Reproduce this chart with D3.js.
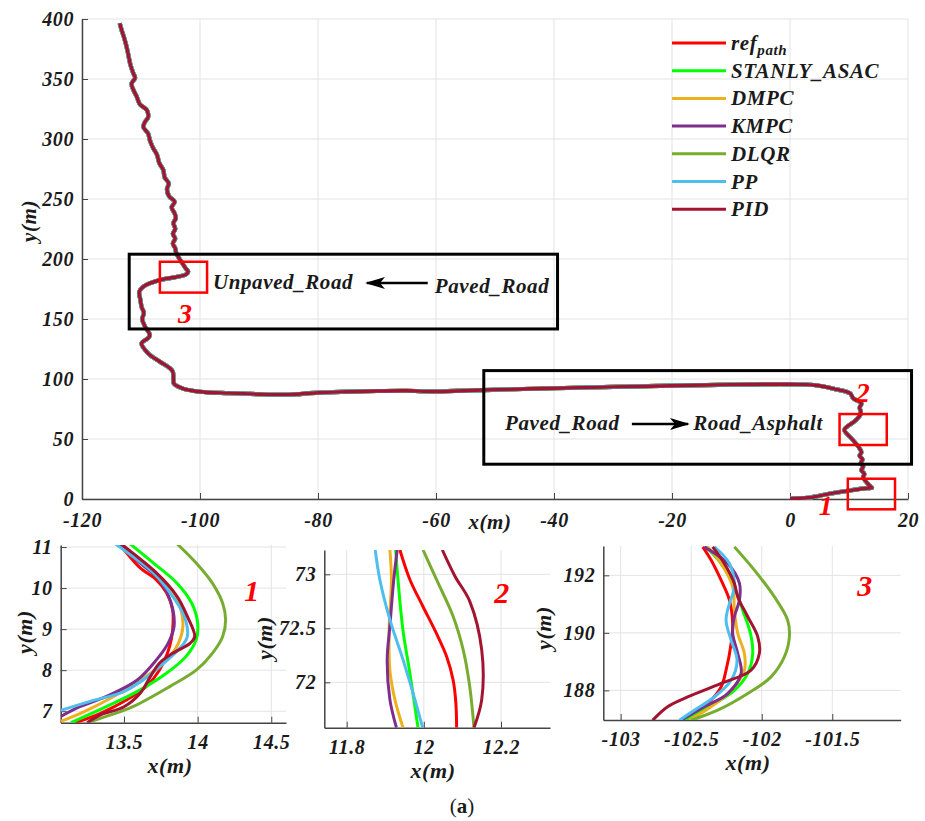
<!DOCTYPE html>
<html>
<head>
<meta charset="utf-8">
<script src="https://cdn.jsdelivr.net/npm/d3@7"></script>
<style>
body { margin: 0; background: #fff; }
text { font-family: "Liberation Serif", "Times New Roman", serif; font-weight: bold; font-style: italic; fill: #1a1a1a; letter-spacing: 0.6px; }
</style>
</head>
<body>
<div id="chart"></div>
<script>
const seriesNames = ['ref', 'STANLY_ASAC', 'DMPC', 'KMPC', 'DLQR', 'PP', 'PID'];
const seriesColors = ['#ff0000', '#00ff00', '#edb120', '#7e2f8e', '#77ac30', '#4dbeee', '#a2142f'];

// whole run, all controllers lie on top of each other at this scale
const mainPath = [[0,0.5],[3,1],[6.8,4.5],[10,7],[13,9],[13.9,9.3],[13.5,11],[12.8,15],[12.4,18],[12.6,21],[12.1,24],
  [12.4,27],[12,30],[12.3,33],[11.8,36],[12.1,39],[11.6,43.6],[10.5,50],[9.2,57.5],[9.6,60],[11,65],[11.9,70],[12,73],
  [11.8,76],[12.1,79.7],[10.7,84],[10.2,88],[7.3,92],[4,95],[0,95.6],[-10,95.3],[-20,94.4],[-30,93.4],[-40,92.3],
  [-52,90.8],[-60,89.6],[-65,90.2],[-70,90],[-75,89.4],[-80,88.6],[-85,87],[-90,87.3],[-95,88.2],[-100,89.4],
  [-103,92.2],[-104.4,96],[-104.5,99],[-104.6,106],[-105.1,109],[-106.8,114.4],[-108.8,121.4],[-109.9,129.7],
  [-108.8,134],[-108.5,136.7],[-109.3,143.6],[-109.8,150],[-109.5,155],[-109.9,160],[-110.1,166],[-110.3,172.7],
  [-109.6,177],[-106.8,182.5],[-104,185],[-102.4,187],[-102,189.4],[-102.4,192],[-102.8,195],[-104,204.7],
  [-104.2,209],[-104.6,213],[-104.2,217],[-104.6,221],[-104.2,225],[-104.5,230],[-104.1,234],[-104.3,238],
  [-104.8,243],[-104.3,247.8],[-105.2,252],[-105.6,258],[-105.3,263],[-106,268],[-106.2,274],[-106.9,280],
  [-107.3,287],[-108,293],[-108.5,299],[-108.8,304.7],[-109.6,310],[-109.3,314.4],[-108.8,318],[-109,324],
  [-110.2,329],[-110.7,335],[-111.2,340],[-111.6,346],[-111,351],[-111.3,354.7],[-111.8,362],[-112.2,371.4],
  [-112.5,378],[-112.9,385],[-113.3,391],[-113.6,396.4]];

// zoom 1 (around x=14, y=9), one array per series in seriesNames order
const zoom1Paths = [
  [[13.46,11.1],[13.51,10.89],[13.61,10.49],[13.72,10.2],[13.79,9.88],[13.83,9.47],[13.83,8.98],[13.81,8.58],[13.74,8.0],[13.65,7.6],[13.52,7.28],[13.34,6.95],[13.17,6.72]],
  [[13.54,11.08],[13.7,10.61],[13.86,10.12],[13.96,9.63],[14.0,9.15],[13.99,8.74],[13.92,8.33],[13.79,7.93],[13.61,7.52],[13.38,7.11],[13.14,6.72]],
  [[13.47,11.08],[13.63,10.61],[13.79,10.12],[13.88,9.55],[13.9,9.07],[13.87,8.66],[13.79,8.25],[13.65,7.85],[13.43,7.36],[13.23,6.99],[13.07,6.75]],
  [[13.46,11.08],[13.61,10.61],[13.74,10.2],[13.82,9.63],[13.84,9.07],[13.8,8.66],[13.72,8.25],[13.59,7.76],[13.38,7.36],[13.2,7.11],[13.07,6.87]],
  [[13.86,11.08],[13.99,10.61],[14.1,10.12],[14.17,9.63],[14.19,9.23],[14.17,8.82],[14.1,8.41],[13.99,8.0],[13.81,7.6],[13.56,7.11],[13.41,6.91],[13.25,6.72]],
  [[13.44,11.08],[13.56,10.77],[13.7,10.37],[13.83,9.8],[13.91,9.31],[13.93,8.82],[13.9,8.62],[13.77,8.17],[13.63,7.76],[13.5,7.48],[13.27,7.24],[13.07,7.02]],
  [[13.48,11.08],[13.56,10.85],[13.72,10.37],[13.86,9.8],[13.93,9.31],[13.98,8.82],[13.95,8.66],[13.83,8.41],[13.74,8.17],[13.68,7.85],[13.61,7.44],[13.5,7.11],[13.34,6.91],[13.25,6.72]]
];

// zoom 2 (around x=12, y=72.5)
const zoom2Paths = [
  [[11.938,73.225],[11.964,72.95],[11.998,72.7],[12.033,72.45],[12.059,72.24],[12.076,72.02],[12.083,71.81],[12.085,71.58]],
  [[11.927,73.225],[11.933,72.95],[11.946,72.48],[11.964,72.08],[11.985,71.58]],
  [[11.912,73.225],[11.916,72.95],[11.91,72.48],[11.912,72.11],[11.925,71.84],[11.946,71.58]],
  [[11.931,73.225],[11.922,72.95],[11.912,72.52],[11.905,72.21],[11.912,71.84],[11.929,71.58]],
  [[11.998,73.225],[12.033,72.95],[12.076,72.61],[12.102,72.3],[12.119,71.96],[12.13,71.58]],
  [[11.874,73.225],[11.886,72.95],[11.912,72.58],[11.946,72.21],[11.972,71.9],[11.997,71.58]],
  [[12.048,73.225],[12.081,72.98],[12.119,72.75],[12.15,72.3],[12.15,71.84],[12.13,71.58]]
];

// zoom 3 (around x=-102, y=190)
const zoom3Paths = [
  [[-102.418,192.99],[-102.359,192.53],[-102.288,191.83],[-102.229,191.14],[-102.206,190.32],[-102.217,189.63],[-102.253,188.7],[-102.288,188.12],[-102.383,187.54],[-102.478,187.19],[-102.548,186.96]],
  [[-102.395,192.99],[-102.288,192.41],[-102.194,191.6],[-102.135,190.79],[-102.08,189.98],[-102.064,189.28],[-102.099,188.59],[-102.194,188.0],[-102.336,187.54],[-102.501,187.08],[-102.572,186.96]],
  [[-102.383,192.99],[-102.288,192.41],[-102.206,191.6],[-102.194,190.79],[-102.17,189.98],[-102.123,189.28],[-102.123,188.7],[-102.217,188.0],[-102.359,187.43],[-102.513,186.96]],
  [[-102.407,192.99],[-102.241,192.41],[-102.158,191.72],[-102.158,191.14],[-102.194,190.56],[-102.206,189.98],[-102.17,189.28],[-102.146,188.59],[-102.241,187.89],[-102.407,187.43],[-102.572,186.96]],
  [[-102.194,192.99],[-102.052,192.18],[-101.91,191.25],[-101.816,190.44],[-101.804,189.86],[-101.839,189.17],[-101.934,188.47],[-102.099,187.89],[-102.312,187.31],[-102.501,186.96]],
  [[-102.336,192.99],[-102.229,192.41],[-102.194,191.6],[-102.229,191.02],[-102.253,190.44],[-102.217,189.74],[-102.175,189.05],[-102.217,188.35],[-102.336,187.77],[-102.478,187.31],[-102.584,186.96]],
  [[-102.348,192.99],[-102.265,192.41],[-102.194,191.72],[-102.17,191.25],[-102.099,190.56],[-102.028,189.86],[-102.017,189.28],[-102.076,188.7],[-102.288,188.24],[-102.525,187.77],[-102.667,187.43],[-102.773,186.96]]
];

const mainXTicks = [-120, -100, -80, -60, -40, -20, 0, 20];
const mainYTicks = [0, 50, 100, 150, 200, 250, 300, 350, 400];

const serif = '"Liberation Serif", "Times New Roman", serif';

const svg = d3.select('#chart').append('svg')
  .attr('width', 925)
  .attr('height', 821);

const defs = svg.append('defs');
defs.append('marker')
  .attr('id', 'arrow')
  .attr('viewBox', '0 0 20 12')
  .attr('refX', 18).attr('refY', 6)
  .attr('markerWidth', 20).attr('markerHeight', 12)
  .attr('markerUnits', 'userSpaceOnUse')
  .attr('orient', 'auto')
  .append('path')
  .attr('d', 'M0,0 L20,6 L0,12 L5,6 Z')
  .attr('fill', '#000');

const line = (x, y) => d3.line().x(d => x(d[0])).y(d => y(d[1])).curve(d3.curveCatmullRom);

// draws an axes box: grid, inward ticks, left + bottom spines
const drawAxes = (g, x, y, xt, yt, fs, xpad) => {
  const [x0, x1] = x.range(), [y0, y1] = y.range();
  g.append('g').selectAll('line.gx').data(xt).enter().append('line')
    .attr('x1', d => x(d)).attr('x2', d => x(d)).attr('y1', y0).attr('y2', y1)
    .attr('stroke', '#e3e3e3').attr('stroke-width', 1);
  g.append('g').selectAll('line.gy').data(yt).enter().append('line')
    .attr('x1', x0).attr('x2', x1).attr('y1', d => y(d)).attr('y2', d => y(d))
    .attr('stroke', '#e3e3e3').attr('stroke-width', 1);
  const ax = g.append('g').attr('transform', `translate(0,${y0})`)
    .call(d3.axisBottom(x).tickValues(xt).tickSize(-6).tickSizeOuter(0).tickPadding(xpad).tickFormat(d => d));
  const ay = g.append('g').attr('transform', `translate(${x0},0)`)
    .call(d3.axisLeft(y).tickValues(yt).tickSize(-6).tickSizeOuter(0).tickPadding(8).tickFormat(d => d));
  [ax, ay].forEach(a => {
    a.attr('font-family', serif).attr('font-size', fs);
    a.select('.domain').attr('stroke', '#444').attr('stroke-width', 1.5);
    a.selectAll('.tick line').attr('stroke', '#444');
    a.selectAll('.tick text').attr('font-size', fs).attr('fill', '#1a1a1a');
  });
};

// ---------- main plot ----------
const x = d3.scaleLinear().domain([-120, 20]).range([82, 908]);
const y = d3.scaleLinear().domain([0, 400]).range([499, 19]);
const main = svg.append('g');
drawAxes(main, x, y, mainXTicks, mainYTicks, 20, 14);

main.append('text').attr('x', 490).attr('y', 529).attr('text-anchor', 'middle')
  .attr('font-size', 21).text('x(m)');
main.append('text').attr('transform', 'translate(36,221) rotate(-90)').attr('text-anchor', 'middle')
  .attr('font-size', 21).text('y(m)');

defs.append('clipPath').attr('id', 'clipMain').append('rect')
  .attr('x', 82).attr('y', 14).attr('width', 826).attr('height', 486);

const mainLine = line(x, y);
main.append('g').attr('clip-path', 'url(#clipMain)')
  .selectAll('path').data(seriesNames).enter().append('path')
  .attr('d', () => mainLine(mainPath))
  .attr('fill', 'none')
  .attr('stroke', (d, i) => seriesColors[i])
  .attr('stroke-width', (d, i) => i === 6 ? 3.4 : 4.2)
  .attr('stroke-linejoin', 'round');

// black region boxes
const regions = [
  { x0: -112, x1: -39.4, y0: 141.7, y1: 204 },
  { x0: -51.9, x1: 20.6, y0: 29, y1: 107 }
];
main.selectAll('rect.region').data(regions).enter().append('rect')
  .attr('x', d => x(d.x0)).attr('y', d => y(d.y1))
  .attr('width', d => x(d.x1) - x(d.x0)).attr('height', d => y(d.y0) - y(d.y1))
  .attr('fill', 'none').attr('stroke', '#000').attr('stroke-width', 3);

// red zoom boxes
const zoomBoxes = [
  { id: '1', x0: 9.8, x1: 17.8, y0: -8.6, y1: 16.9, lx: 6.1, ly: -5 },
  { id: '2', x0: 8.4, x1: 16.4, y0: 45, y1: 70.8, lx: 12.4, ly: 89 },
  { id: '3', x0: -106.8, x1: -98.8, y0: 172, y1: 197.7, lx: -102.5, ly: 155 }
];
main.selectAll('rect.zoom').data(zoomBoxes).enter().append('rect')
  .attr('x', d => x(d.x0)).attr('y', d => y(d.y1))
  .attr('width', d => x(d.x1) - x(d.x0)).attr('height', d => y(d.y0) - y(d.y1))
  .attr('fill', 'none').attr('stroke', '#ff0000').attr('stroke-width', 2.5);
main.selectAll('text.zl').data(zoomBoxes).enter().append('text')
  .attr('x', d => x(d.lx)).attr('y', d => y(d.ly)).attr('dy', '0.35em')
  .attr('text-anchor', 'middle').attr('font-size', 28).style('fill', '#ff0000')
  .text(d => d.id);

// road annotations
const notes = [
  { t: 'Unpaved_Road', x: -97.8, y: 181 },
  { t: 'Paved_Road', x: -60.2, y: 178 },
  { t: 'Paved_Road', x: -48.3, y: 63.3 },
  { t: 'Road_Asphalt', x: -16.4, y: 63.3 }
];
main.selectAll('text.note').data(notes).enter().append('text')
  .attr('x', d => x(d.x)).attr('y', d => y(d.y)).attr('dy', '0.35em')
  .attr('font-size', 21).text(d => d.t);
const arrows = [
  { x0: -61.4, x1: -71.7, y: 180 },
  { x0: -26.8, x1: -17.3, y: 62.5 }
];
main.selectAll('line.arr').data(arrows).enter().append('line')
  .attr('x1', d => x(d.x0)).attr('x2', d => x(d.x1))
  .attr('y1', d => y(d.y)).attr('y2', d => y(d.y))
  .attr('stroke', '#000').attr('stroke-width', 2.5)
  .attr('marker-end', 'url(#arrow)');

// legend
const legend = main.append('g').attr('transform', 'translate(672,43)');
const li = legend.selectAll('g').data(seriesNames).enter().append('g')
  .attr('transform', (d, i) => `translate(0,${i * 27.7})`);
li.append('line').attr('x1', 0).attr('x2', 54)
  .attr('stroke', (d, i) => seriesColors[i]).attr('stroke-width', 3);
const lt = li.append('text').attr('x', 59).attr('y', 7).attr('font-size', 21);
lt.filter(d => d !== 'ref').text(d => d);
lt.filter(d => d === 'ref').each(function () {
  const t = d3.select(this);
  t.append('tspan').text('ref');
  t.append('tspan').attr('dy', 5).attr('font-size', 15).text('path');
});

// ---------- insets ----------
const insets = [
  { paths: zoom1Paths, xd: [13.07, 14.6], yd: [6.72, 11.05], xr: [60.7, 286], yr: [722.7, 545],
    xt: [13.5, 14, 14.5], yt: [7, 8, 9, 10, 11], id: '1', lab: [252, 590], ylab: [32, 632], xlab: 170 },
  { paths: zoom2Paths, xd: [11.742, 12.327], yd: [71.58, 73.225], xr: [324.3, 550], yr: [727.7, 550],
    xt: [11.8, 12, 12.2], yt: [72, 72.5, 73], id: '2', lab: [502, 592], ylab: [272, 638], xlab: 433 },
  { paths: zoom3Paths, xd: [-103.123, -101.015], yd: [186.97, 193.02], xr: [603.3, 900.7], yr: [720, 546],
    xt: [-103, -102.5, -102, -101.5], yt: [188, 190, 192], id: '3', lab: [865, 585], ylab: [551, 628], xlab: 748 }
];

insets.forEach((s, k) => {
  const ix = d3.scaleLinear().domain(s.xd).range(s.xr);
  const iy = d3.scaleLinear().domain(s.yd).range(s.yr);
  const g = svg.append('g');
  drawAxes(g, ix, iy, s.xt, s.yt, 20, 12);
  defs.append('clipPath').attr('id', `clipZ${k}`).append('rect')
    .attr('x', s.xr[0]).attr('y', s.yr[1]).attr('width', s.xr[1] - s.xr[0]).attr('height', s.yr[0] - s.yr[1]);
  const l = line(ix, iy);
  g.append('g').attr('clip-path', `url(#clipZ${k})`)
    .selectAll('path').data(s.paths).enter().append('path')
    .attr('d', d => l(d))
    .attr('fill', 'none')
    .attr('stroke', (d, i) => seriesColors[i])
    .attr('stroke-width', 3);
  g.append('text').attr('x', s.xlab).attr('y', s.yr[0] + 50).attr('text-anchor', 'middle')
    .attr('font-size', 22).text('x(m)');
  g.append('text').attr('transform', `translate(${s.ylab[0]},${s.ylab[1]}) rotate(-90)`)
    .attr('text-anchor', 'middle').attr('font-size', 22).text('y(m)');
  g.append('text').attr('x', s.lab[0]).attr('y', s.lab[1]).attr('dy', '0.35em')
    .attr('text-anchor', 'middle').attr('font-size', 30).style('fill', '#ff0000').text(s.id);
});

// caption
const cap = svg.append('text').attr('x', 462).attr('y', 813).attr('text-anchor', 'middle')
  .attr('font-size', 21).style('font-style', 'normal').style('font-weight', 'normal').style('letter-spacing', '0');
cap.append('tspan').text('(');
cap.append('tspan').style('font-weight', 'bold').text('a');
cap.append('tspan').text(')');
</script>
</body>
</html>
